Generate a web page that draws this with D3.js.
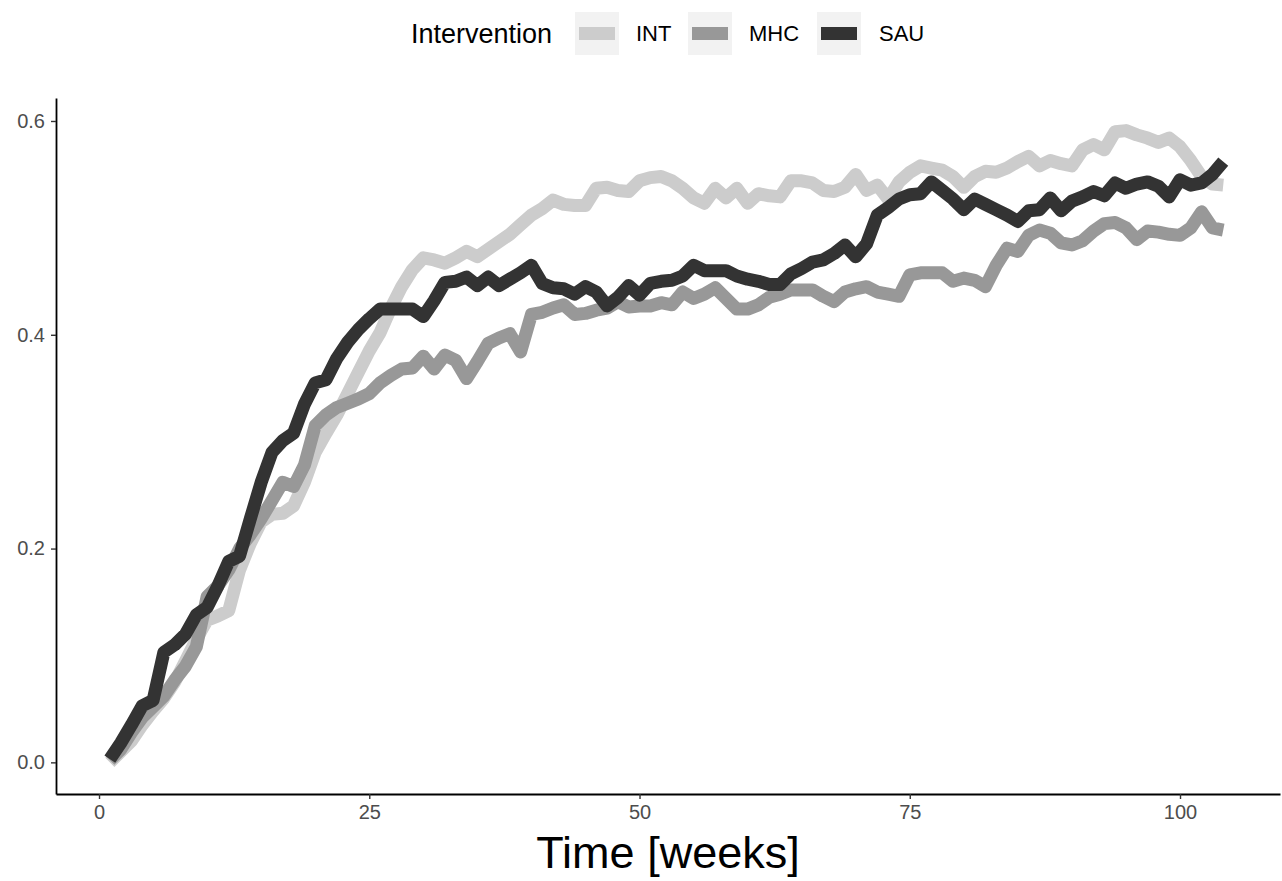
<!DOCTYPE html>
<html>
<head>
<meta charset="utf-8">
<script src="https://cdn.jsdelivr.net/npm/d3@7"></script>
<style>
html,body{margin:0;padding:0;background:#fff;}
svg{display:block;font-family:"Liberation Sans",Arial,sans-serif;}
</style>
</head>
<body>
<div id="chart"></div>
<script>
// ---- data ----
const weeks = d3.range(1, 105);
const groups = ["INT", "MHC", "SAU"];
const colors = ["#cccccc", "#989898", "#333333"];
const xTicks = [0, 25, 50, 75, 100];
const yTicks = [0.0, 0.2, 0.4, 0.6];
const legendTitle = "Intervention";
const xTitle = "Time [weeks]";

const INT = [0.0,0.01,0.02,0.035,0.048,0.06,0.075,0.095,0.115,0.133,0.137,0.142,0.18,0.205,0.225,0.232,0.233,0.24,0.262,0.29,
0.308,0.325,0.345,0.365,0.385,0.402,0.425,0.445,0.461,0.472,0.47,0.467,0.472,0.478,0.473,0.48,0.487,0.494,0.503,0.512,
0.518,0.526,0.522,0.521,0.521,0.537,0.538,0.535,0.534,0.544,0.547,0.548,0.544,0.537,0.528,0.523,0.537,0.528,0.537,0.523,
0.532,0.53,0.529,0.544,0.544,0.542,0.535,0.534,0.538,0.55,0.535,0.54,0.527,0.543,0.552,0.558,0.556,0.554,0.548,0.538,
0.548,0.553,0.552,0.556,0.562,0.567,0.558,0.563,0.56,0.558,0.573,0.578,0.573,0.59,0.591,0.587,0.584,0.58,0.584,0.576,
0.563,0.548,0.541,0.54];

const MHC = [0.002,0.012,0.028,0.042,0.052,0.062,0.077,0.09,0.108,0.155,0.165,0.18,0.2,0.213,0.228,0.245,0.262,0.258,0.278,0.315,
0.325,0.332,0.336,0.34,0.345,0.355,0.362,0.368,0.369,0.38,0.368,0.381,0.376,0.359,0.375,0.392,0.397,0.401,0.384,0.419,
0.421,0.425,0.428,0.419,0.42,0.423,0.425,0.431,0.426,0.427,0.427,0.43,0.428,0.44,0.434,0.438,0.444,0.434,0.424,0.424,
0.428,0.435,0.438,0.442,0.442,0.442,0.436,0.431,0.44,0.443,0.445,0.44,0.438,0.436,0.456,0.458,0.458,0.458,0.45,0.453,
0.451,0.445,0.465,0.481,0.478,0.493,0.498,0.495,0.486,0.484,0.488,0.497,0.504,0.505,0.5,0.489,0.497,0.496,0.494,0.493,
0.5,0.515,0.5,0.498];

const SAU = [0.003,0.018,0.035,0.053,0.058,0.103,0.11,0.12,0.138,0.145,0.165,0.188,0.193,0.228,0.262,0.29,0.301,0.308,0.335,0.355,
0.358,0.378,0.393,0.405,0.415,0.424,0.424,0.424,0.424,0.417,0.432,0.449,0.45,0.454,0.446,0.454,0.446,0.452,0.458,0.465,
0.448,0.444,0.443,0.438,0.445,0.44,0.427,0.435,0.446,0.437,0.448,0.45,0.451,0.455,0.465,0.46,0.46,0.46,0.455,0.452,
0.45,0.447,0.447,0.457,0.462,0.468,0.47,0.476,0.484,0.473,0.485,0.512,0.519,0.527,0.531,0.532,0.543,0.535,0.527,0.517,
0.527,0.522,0.517,0.512,0.506,0.516,0.517,0.528,0.516,0.525,0.529,0.534,0.53,0.542,0.537,0.541,0.543,0.539,0.529,0.545,
0.54,0.542,0.55,0.562];

const seriesValues = [INT, MHC, SAU];

// ---- layout ----
const W = 1282, H = 881;
const mLeft = 56, mRight = 1280, mTop = 98, mBottom = 794;

const svg = d3.select("#chart").append("svg").attr("width", W).attr("height", H);

const x = d3.scaleLinear().domain([-3.98, 109.25]).range([mLeft, mRight]);
const y = d3.scaleLinear().domain([-0.0296, 0.6215]).range([mBottom, mTop]);

// lines
const line = d3.line().x((d, i) => x(weeks[i])).y(d => y(d));
const lineG = svg.append("g");
seriesValues.forEach((vals, k) => {
  lineG.append("path")
    .datum(vals)
    .attr("d", line)
    .attr("fill", "none")
    .attr("stroke", colors[k])
    .attr("stroke-width", 13)
    .attr("stroke-linejoin", "round")
    .attr("stroke-linecap", "butt");
});

// axes
const xAxis = svg.append("g").attr("transform", `translate(0,${mBottom})`)
  .call(d3.axisBottom(x).tickValues(xTicks).tickFormat(d3.format("d")).tickSize(5).tickPadding(6).tickSizeOuter(0));
const yAxis = svg.append("g").attr("transform", `translate(${mLeft},0)`)
  .call(d3.axisLeft(y).tickValues(yTicks).tickFormat(d3.format(".1f")).tickSize(5).tickPadding(6).tickSizeOuter(0));

[xAxis, yAxis].forEach(a => {
  a.select(".domain").attr("stroke", "#000").attr("stroke-width", 1.8);
  a.selectAll(".tick line").attr("stroke", "#333").attr("stroke-width", 1.4);
  a.selectAll(".tick text").attr("fill", "#4d4d4d").style("font-size", "20px")
    .style("font-family", "'Liberation Sans', Arial, sans-serif");
});

// x title
svg.append("text")
  .attr("x", 668)
  .attr("y", 868)
  .attr("text-anchor", "middle")
  .style("font-size", "45px")
  .attr("fill", "#000")
  .text(xTitle);

// legend
const leg = svg.append("g");
leg.append("text").attr("x", 411).attr("y", 43)
  .style("font-size", "27px").attr("fill", "#000").text(legendTitle);
const keyX = [575, 688, 817];
const labX = [636, 749, 879];
groups.forEach((g, k) => {
  leg.append("rect").attr("x", keyX[k]).attr("y", 12).attr("width", 44).attr("height", 43).attr("fill", "#f2f2f2");
  leg.append("line").attr("x1", keyX[k] + 4).attr("x2", keyX[k] + 40)
    .attr("y1", 33.5).attr("y2", 33.5).attr("stroke", colors[k]).attr("stroke-width", 13);
  leg.append("text").attr("x", labX[k]).attr("y", 41).style("font-size", "22px").attr("fill", "#000").text(g);
});
</script>
</body>
</html>
